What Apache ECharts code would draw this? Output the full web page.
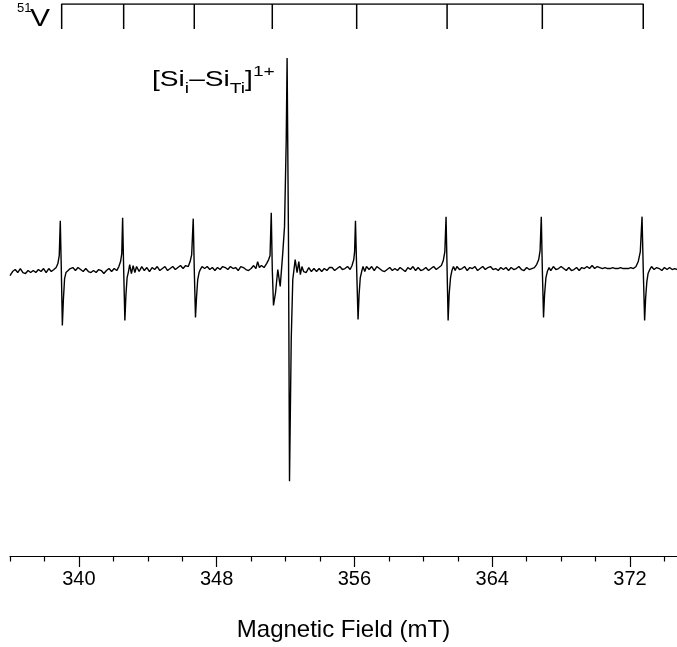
<!DOCTYPE html>
<html>
<head>
<meta charset="utf-8">
<script src="https://cdn.jsdelivr.net/npm/echarts@6/dist/echarts.min.js"></script>
<style>
  html, body { margin: 0; padding: 0; background: #fff; }
  #chart { width: 677px; height: 647px; }
</style>
</head>
<body>
<div id="chart"></div>
<script>
// EPR spectrum, magnetic field in mT vs derivative signal (arb. units)
const field = [
  336.00, 336.15, 336.30, 336.45, 336.60, 336.75, 336.90, 337.05, 337.20, 337.35,
  337.50, 337.65, 337.80, 337.95, 338.10, 338.25, 338.40, 338.55, 338.68, 338.78,
  338.86, 338.92, 338.98, 339.04, 339.10, 339.17, 339.25, 339.35, 339.50, 339.65,
  339.80, 339.95, 340.10, 340.25, 340.40, 340.55, 340.70, 340.85, 341.00, 341.15,
  341.30, 341.45, 341.60, 341.75, 341.90, 342.05, 342.20, 342.32, 342.42, 342.49,
  342.54, 342.60, 342.67, 342.73, 342.80, 342.88, 342.95, 343.05, 343.15, 343.25,
  343.35, 343.50, 343.65, 343.80, 343.95, 344.10, 344.25, 344.40, 344.55, 344.70,
  344.85, 345.00, 345.15, 345.30, 345.45, 345.60, 345.75, 345.90, 346.05, 346.20,
  346.35, 346.46, 346.55, 346.64, 346.70, 346.77, 346.83, 346.90, 346.98, 347.05,
  347.15, 347.30, 347.45, 347.60, 347.75, 347.90, 348.05, 348.20, 348.35, 348.50,
  348.65, 348.80, 348.95, 349.10, 349.25, 349.40, 349.55, 349.70, 349.85, 350.00,
  350.15, 350.28, 350.38, 350.48, 350.60, 350.75, 350.90, 351.02, 351.10, 351.17,
  351.23, 351.30, 351.42, 351.55, 351.69, 351.84, 351.94, 352.04, 352.09, 352.17,
  352.23, 352.33, 352.42, 352.56, 352.67, 352.77, 352.86, 352.95, 353.05, 353.20,
  353.35, 353.50, 353.65, 353.80, 353.95, 354.10, 354.25, 354.40, 354.55, 354.70,
  354.85, 355.00, 355.15, 355.30, 355.45, 355.60, 355.75, 355.86, 355.96, 356.01,
  356.06, 356.13, 356.21, 356.27, 356.34, 356.42, 356.50, 356.60, 356.70, 356.85,
  357.00, 357.15, 357.30, 357.45, 357.60, 357.75, 357.90, 358.05, 358.20, 358.35,
  358.50, 358.65, 358.80, 358.95, 359.10, 359.25, 359.40, 359.55, 359.70, 359.85,
  360.00, 360.15, 360.30, 360.45, 360.60, 360.75, 360.90, 361.05, 361.16, 361.25,
  361.32, 361.38, 361.44, 361.50, 361.58, 361.66, 361.75, 361.85, 361.95, 362.10,
  362.25, 362.40, 362.55, 362.70, 362.85, 363.00, 363.15, 363.30, 363.45, 363.60,
  363.75, 363.90, 364.05, 364.20, 364.35, 364.50, 364.65, 364.80, 364.95, 365.10,
  365.25, 365.40, 365.55, 365.70, 365.85, 366.00, 366.15, 366.30, 366.45, 366.58,
  366.70, 366.78, 366.85, 366.91, 366.98, 367.04, 367.12, 367.20, 367.30, 367.40,
  367.55, 367.70, 367.85, 368.00, 368.15, 368.30, 368.45, 368.60, 368.75, 368.90,
  369.05, 369.20, 369.35, 369.50, 369.65, 369.80, 369.95, 370.10, 370.25, 370.40,
  370.55, 370.70, 370.85, 371.00, 371.15, 371.30, 371.45, 371.60, 371.75, 371.90,
  372.05, 372.20, 372.35, 372.48, 372.60, 372.70, 372.77, 372.85, 372.91, 372.98,
  373.05, 373.15, 373.25, 373.40, 373.55, 373.70, 373.85, 374.00, 374.15, 374.30,
  374.45, 374.60, 374.73
];
const signal = [
  -6, -2, 0, -3, 1, -3, -4, -1, -3, -1,
  -3, 0, -2, 1, -3, 1, -2, 0, 2, 6,
  14, 49, 0, -56, -30, -9, -3, -1, 1, 2,
  -1, 2, 0, -2, 1, -2, -3, -1, -3, 0,
  -1, -4, -1, 1, -2, 1, -1, 3, 8, 16,
  52, 0, -51, -26, -8, -2, 5, -4, 4, -3,
  3, -2, 3, -1, 2, -2, 2, 0, 3, -1,
  1, 3, -1, 1, 3, 0, 2, 4, 1, 4,
  3, 8, 15, 51, 0, -48, -28, -10, -3, 0,
  3, 1, 3, 0, 2, -1, 2, 0, 3, 2,
  0, 3, 1, 2, -1, 3, 2, 0, -1, 1,
  4, 1, 8, 2, 4, 2, 6, 10, 14, 57,
  0, -36, -23, 0, -17, 17, 43, 130, 212, 30,
  -212, -70, -10, 10, -3, 8, -5, 3, -2, -3,
  2, -2, 1, -2, 1, -2, 1, -1, 2, 2,
  -1, 1, 3, 0, 1, 3, 0, 4, 10, 18,
  49, 0, -50, -25, -8, -2, 3, -2, 3, 0,
  3, -1, 3, 1, -1, -2, 0, 2, -1, 1,
  -1, 2, 0, -2, 2, 0, 3, -1, 2, -1,
  0, 2, -1, 1, 3, 0, 2, 4, 9, 18,
  53, 0, -51, -25, -8, -1, 3, -1, 3, 0,
  1, 3, -1, 2, 1, 3, -1, 1, 3, 0,
  2, 3, 0, 1, -1, 2, 0, 2, -1, 2,
  0, 1, 3, 0, -1, 2, 0, 1, 2, 5,
  10, 19, 53, 0, -48, -25, -8, -2, 2, -1,
  3, 0, 1, 3, 1, -1, 2, -1, 0, 2,
  -1, 2, 1, 3, 1, 4, 1, 3, 2, 1,
  2, 1, 1, 2, 1, 1, 2, 1, 1, 1,
  2, 1, 3, 8, 18, 53, 0, -51, -28, -12,
  -4, 0, 3, 0, 2, 1, -1, 2, 0, 2,
  0, 1, 0
];
// 51V hyperfine line positions (mT)
const vLines = [339.0, 342.6, 346.7, 351.23, 356.13, 361.38, 366.91, 372.77];
const majorTicks = [340, 348, 356, 364, 372];
const minorTicks = [336, 338, 342, 344, 346, 350, 352, 354, 358, 360, 362, 366, 368, 370, 374];

const FONT = '"Liberation Sans", Arial, Helvetica, sans-serif';
const xMin = 336, xMax = 374.73;

let spectrum = field.map((f, i) => [f, signal[i]]);

// stick diagram: comb drawn from the line positions
let stickPath = [[vLines[0], 0], [vLines[0], 1]];
for (let i = 1; i < vLines.length; i++) {
  stickPath.push([vLines[i], 1], [vLines[i], 0], [vLines[i], 1]);
}

let chart = echarts.init(document.getElementById('chart'));
let option = {
  backgroundColor: '#fff',
  animation: false,
  grid: [
    { left: 10, right: 0, top: 40, bottom: 90 },
    { left: 10, right: 0, top: 4, height: 25 }
  ],
  xAxis: [
    {
      type: 'value', gridIndex: 0, min: xMin, max: xMax, position: 'bottom',
      splitLine: { show: false },
      axisLine: { show: true, onZero: false, lineStyle: { color: '#000', width: 1.2 } },
      axisTick: { show: true, customValues: majorTicks, length: 11, lineStyle: { color: '#000', width: 1.2 } },
      axisLabel: { show: true, customValues: majorTicks, color: '#000', fontSize: 20, fontFamily: FONT, margin: 13 },
      name: 'Magnetic Field (mT)', nameLocation: 'middle', nameGap: 62,
      nameTextStyle: { color: '#000', fontSize: 24, fontFamily: FONT }
    },
    {
      type: 'value', gridIndex: 0, min: xMin, max: xMax, position: 'bottom', offset: 0,
      splitLine: { show: false },
      axisLine: { show: false, onZero: false },
      axisTick: { show: true, customValues: minorTicks, length: 5.5, lineStyle: { color: '#000', width: 1.2 } },
      axisLabel: { show: false }
    },
    { type: 'value', gridIndex: 1, min: xMin, max: xMax, show: false }
  ],
  yAxis: [
    { type: 'value', gridIndex: 0, min: -287, max: 230, show: false },
    { type: 'value', gridIndex: 1, min: 0, max: 1, show: false }
  ],
  series: [
    {
      name: 'spectrum', type: 'line', xAxisIndex: 0, yAxisIndex: 0,
      showSymbol: false, symbol: 'none', silent: true,
      lineStyle: { color: '#000', width: 1.4 },
      data: spectrum
    },
    {
      name: '51V', type: 'line', xAxisIndex: 2, yAxisIndex: 1,
      showSymbol: false, symbol: 'none', silent: true,
      lineStyle: { color: '#000', width: 1.5 },
      data: stickPath
    }
  ],
  graphic: [
    {
      type: 'text', x: 17, y: 2,
      style: { text: '51', font: '13px ' + FONT, fill: '#000', verticalAlign: 'top' }
    },
    {
      type: 'text', x: 30, y: 7, scaleX: 1.25,
      style: { text: 'V', font: '24px ' + FONT, fill: '#000', verticalAlign: 'top' }
    },
    {
      type: 'text', x: 152, y: 64, scaleX: 1.28,
      style: {
        text: '{m|[Si}{s|i}{m|–Si}{s|Ti}{m|]}{p|1+}',
        fill: '#000', verticalAlign: 'top',
        rich: {
          m: { fontSize: 22, fontFamily: FONT, lineHeight: 32, verticalAlign: 'middle' },
          s: { fontSize: 15, fontFamily: FONT, lineHeight: 16, verticalAlign: 'bottom' },
          p: { fontSize: 15, fontFamily: FONT, lineHeight: 16, verticalAlign: 'top' }
        }
      }
    }
  ]
};
chart.setOption(option);
</script>
</body>
</html>
